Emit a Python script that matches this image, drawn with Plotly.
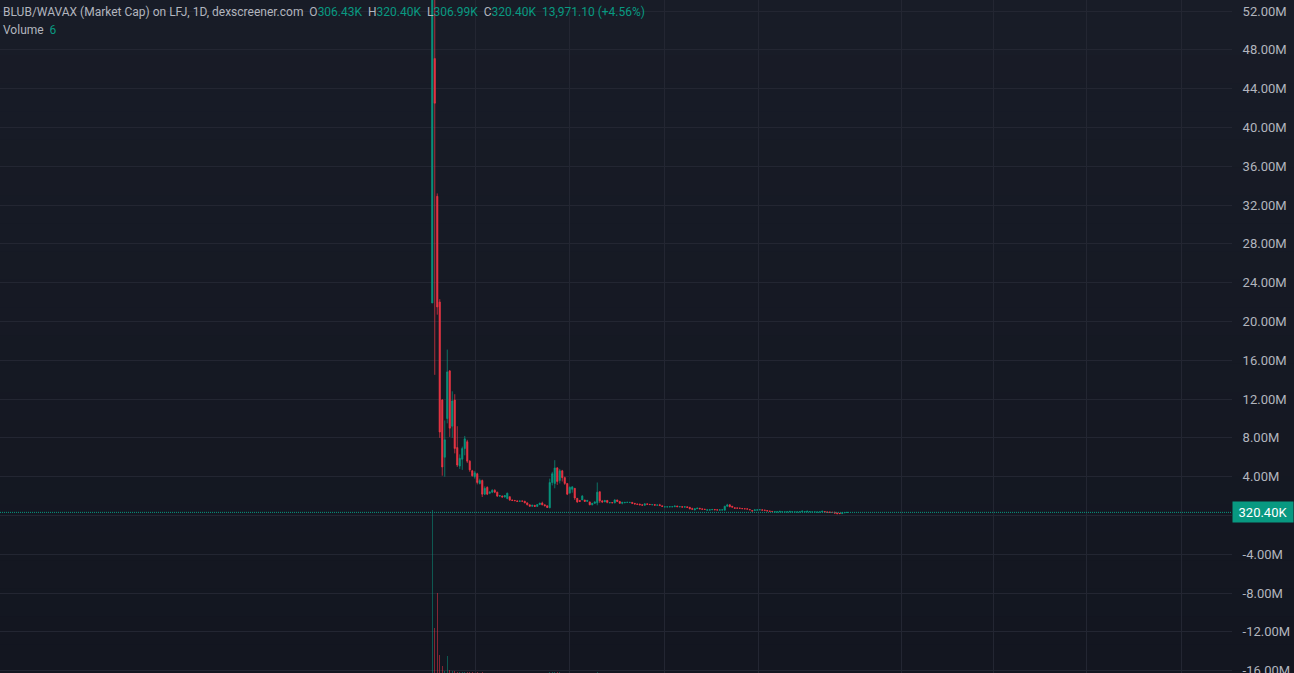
import plotly.graph_objects as go

# ---------------- data (market cap in millions USD) ----------------
opens = [
    21.9, 47.1, 32.9, 22.0, 11.9, 6.0, 10.0, 14.9, 9.2, 11.9,
    7.0, 5.1, 5.8, 6.9, 7.6, 5.6, 4.6, 4.0, 4.3, 3.3,
    3.6, 2.2, 2.9, 2.3, 2.4, 2.6, 2.4, 2.0, 2.0, 1.9,
    1.75, 1.94, 1.6, 1.55, 1.5, 1.45, 1.5, 1.47, 1.3, 1.1,
    0.95, 1.05, 0.93, 1.12, 1.28, 1.1, 1.0, 0.8, 3.4, 3.3,
    4.9, 3.6, 4.6, 3.9, 3.3, 2.3, 2.7, 2.8, 1.77, 1.55,
    1.6, 1.6, 1.45, 1.4, 1.1, 1.25, 1.3, 2.45, 1.5, 1.4,
    1.55, 1.3, 1.33, 1.3, 1.6, 1.45, 1.25, 1.3, 1.35, 1.33,
    1.35, 1.25, 1.18, 1.18, 1.1, 1.05, 1.2, 1.15, 1.1, 1.12,
    1.06, 1.1, 1.0, 0.88, 0.88, 0.88, 0.89, 0.9, 0.98, 0.88,
    0.91, 0.86, 0.9, 0.84, 0.7, 0.56, 0.7, 0.75, 0.68, 0.65,
    0.55, 0.55, 0.58, 0.62, 0.58, 0.54, 0.56, 0.55, 0.95, 1.1,
    0.95, 0.8, 0.78, 0.76, 0.72, 0.7, 0.68, 0.62, 0.5, 0.5,
    0.55, 0.56, 0.58, 0.56, 0.5, 0.46, 0.42, 0.34, 0.35, 0.37,
    0.36, 0.36, 0.36, 0.37, 0.36, 0.36, 0.36, 0.37, 0.38, 0.37,
    0.37, 0.38, 0.36, 0.36, 0.35, 0.36, 0.37, 0.4, 0.36, 0.35,
    0.34, 0.32, 0.26, 0.22, 0.19, 0.27, 0.3064289,
]
highs = [
    60.0, 56.0, 33.2, 22.3, 12.0, 9.8, 17.1, 15.0, 12.8, 12.5,
    9.2, 6.3, 7.1, 8.2, 7.8, 5.7, 4.7, 4.6, 4.4, 3.8,
    3.7, 3.0, 3.0, 2.5, 2.7, 2.7, 2.45, 2.1, 2.05, 2.1,
    2.35, 1.94, 1.62, 1.6, 1.55, 1.52, 1.52, 1.5, 1.32, 1.12,
    1.1, 1.06, 1.15, 1.3, 1.42, 1.12, 1.02, 3.8, 4.5, 5.7,
    5.0, 4.8, 4.7, 4.0, 3.3, 3.0, 3.0, 2.8, 1.8, 1.6,
    2.1, 1.6, 1.6, 1.42, 1.3, 1.45, 3.4, 2.45, 1.6, 1.6,
    1.6, 1.35, 1.36, 1.67, 1.62, 1.5, 1.4, 1.38, 1.38, 1.37,
    1.36, 1.27, 1.2, 1.2, 1.12, 1.25, 1.21, 1.16, 1.13, 1.12,
    1.1, 1.2, 1.0, 0.9, 0.9, 0.91, 0.92, 1.0, 0.99, 0.93,
    0.93, 0.92, 0.9, 0.88, 0.8, 0.72, 0.78, 0.76, 0.69, 0.66,
    0.6, 0.6, 0.63, 0.62, 0.6, 0.6, 0.6, 1.0, 1.2, 1.15,
    0.98, 0.82, 0.8, 0.77, 0.73, 0.71, 0.69, 0.63, 0.52, 0.6,
    0.6, 0.63, 0.59, 0.57, 0.51, 0.47, 0.43, 0.4, 0.39, 0.45,
    0.39, 0.38, 0.39, 0.47, 0.39, 0.38, 0.38, 0.39, 0.48, 0.4,
    0.47, 0.41, 0.38, 0.38, 0.37, 0.38, 0.47, 0.41, 0.37, 0.36,
    0.35, 0.4, 0.28, 0.25, 0.3, 0.31, 0.3204,
]
lows = [
    21.9, 14.5, 20.7, 8.0, 4.1, 4.0, 9.5, 8.1, 8.0, 6.4,
    5.0, 4.8, 4.7, 6.2, 5.4, 4.5, 4.0, 3.8, 3.2, 3.2,
    1.9, 2.1, 2.1, 2.2, 2.3, 2.3, 1.9, 1.9, 1.85, 1.85,
    1.67, 1.5, 1.5, 1.5, 1.4, 1.43, 1.45, 1.26, 1.05, 0.9,
    0.9, 0.9, 0.9, 1.08, 1.05, 0.95, 0.78, 0.74, 3.1, 2.8,
    3.15, 3.3, 3.5, 3.15, 2.1, 2.3, 2.35, 1.6, 1.3, 1.4,
    1.6, 1.4, 1.4, 1.05, 1.05, 1.2, 1.05, 1.3, 1.3, 1.38,
    1.26, 1.26, 1.28, 1.26, 1.4, 1.2, 1.15, 1.28, 1.32, 1.31,
    1.2, 1.15, 1.12, 1.05, 1.03, 1.02, 1.12, 1.1, 1.06, 1.04,
    1.04, 1.0, 0.9, 0.86, 0.86, 0.87, 0.88, 0.88, 0.87, 0.86,
    0.84, 0.84, 0.8, 0.64, 0.58, 0.54, 0.68, 0.66, 0.62, 0.6,
    0.5, 0.52, 0.56, 0.56, 0.55, 0.52, 0.52, 0.5, 0.9, 0.85,
    0.84, 0.72, 0.73, 0.72, 0.68, 0.66, 0.64, 0.56, 0.43, 0.48,
    0.52, 0.54, 0.53, 0.52, 0.45, 0.42, 0.39, 0.33, 0.34, 0.36,
    0.34, 0.34, 0.35, 0.35, 0.34, 0.34, 0.34, 0.35, 0.37, 0.35,
    0.35, 0.36, 0.35, 0.35, 0.34, 0.35, 0.36, 0.34, 0.33, 0.32,
    0.3, 0.22, 0.15, 0.16, 0.18, 0.26, 0.30699,
]
closes = [
    56.0, 42.5, 21.5, 8.6, 5.0, 7.8, 14.8, 9.0, 11.8, 6.9,
    5.2, 5.9, 6.9, 7.9, 5.6, 4.7, 4.1, 4.4, 3.4, 3.6,
    2.2, 2.8, 2.2, 2.4, 2.6, 2.4, 2.0, 2.05, 1.9, 2.05,
    2.3, 1.6, 1.55, 1.52, 1.45, 1.5, 1.47, 1.3, 1.1, 0.95,
    1.05, 0.93, 1.12, 1.28, 1.1, 1.0, 0.82, 3.4, 4.3, 4.9,
    3.5, 4.6, 3.9, 3.3, 2.2, 2.9, 2.95, 1.8, 1.4, 1.45,
    2.0, 1.45, 1.55, 1.1, 1.25, 1.4, 2.4, 1.5, 1.4, 1.55,
    1.35, 1.33, 1.3, 1.6, 1.45, 1.25, 1.35, 1.35, 1.36, 1.35,
    1.25, 1.18, 1.15, 1.1, 1.06, 1.2, 1.15, 1.12, 1.12, 1.06,
    1.08, 1.02, 0.93, 0.89, 0.89, 0.9, 0.9, 0.98, 0.9, 0.91,
    0.86, 0.9, 0.83, 0.68, 0.65, 0.7, 0.76, 0.68, 0.64, 0.62,
    0.58, 0.59, 0.62, 0.58, 0.56, 0.58, 0.58, 0.95, 1.08, 0.9,
    0.86, 0.74, 0.75, 0.74, 0.7, 0.68, 0.66, 0.58, 0.45, 0.58,
    0.58, 0.6, 0.55, 0.53, 0.46, 0.43, 0.4, 0.39, 0.38, 0.43,
    0.38, 0.37, 0.38, 0.42, 0.38, 0.37, 0.37, 0.38, 0.45, 0.39,
    0.44, 0.4, 0.37, 0.37, 0.36, 0.37, 0.44, 0.35, 0.34, 0.33,
    0.31, 0.24, 0.18, 0.19, 0.28, 0.3, 0.3204,
]
volumes = [
    2000000, 552000, 982000, 221000, 85000, 30000, 209000, 40000, 25000, 24000,
    18000, 12000, 9000, 14000, 11000, 8000, 7000, 6000, 9000, 5000,
    7000, 4000, 5000, 3000, 3500, 3000, 4000, 2500, 2000, 3000,
    4500, 3000, 2000, 1800, 2200, 1500, 1600, 2400, 2600, 2000,
    1700, 1500, 2100, 2600, 2900, 1600, 1900, 11000, 8000, 12000,
    7000, 6500, 5000, 4800, 5200, 3600, 3100, 4200, 3300, 2100,
    3400, 2000, 1800, 2500, 1700, 2200, 6800, 3900, 1800, 1500,
    1600, 1000, 900, 2300, 1400, 1500, 1100, 800, 600, 700,
    1000, 900, 700, 1100, 800, 1300, 700, 600, 500, 600,
    500, 900, 800, 400, 300, 350, 300, 700, 600, 400,
    500, 400, 600, 900, 800, 700, 500, 450, 400, 350,
    500, 300, 350, 300, 250, 300, 280, 1500, 1800, 1100,
    700, 600, 400, 300, 350, 300, 250, 400, 600, 500,
    300, 350, 250, 200, 300, 250, 200, 300, 150, 250,
    120, 100, 110, 260, 90, 80, 70, 90, 240, 80,
    200, 90, 60, 50, 40, 60, 180, 120, 70, 60,
    80, 260, 300, 150, 140, 40, 6,
]
price_tick_values_m = [52, 48, 44, 40, 36, 32, 28, 24, 20, 16, 12, 8, 4, 0, -4, -8, -12, -16]
price_tick_labels = ["52.00M", "48.00M", "44.00M", "40.00M", "36.00M", "32.00M", "28.00M",
                     "24.00M", "20.00M", "16.00M", "12.00M", "8.00M", "4.00M", "",
                     "-4.00M", "-8.00M", "-12.00M", "-16.00M"]
title_text = "BLUB/WAVAX (Market Cap) on LFJ, 1D, dexscreener.com"

# ---------------- derived ----------------
M = 1e6
bars = list(range(len(closes)))
o = [v * M for v in opens]
h = [v * M for v in highs]
l = [v * M for v in lows]
c = [v * M for v in closes]

UP = "#089981"
DOWN = "#f23645"
UP_VOL = "rgba(8,153,129,0.5)"
DOWN_VOL = "rgba(242,54,69,0.5)"
TEXT = "#b2b5be"
GRID = "#232632"
FONT = "Roboto, 'Noto Sans', sans-serif"

vol_colors = [UP_VOL if cc >= oo else DOWN_VOL for oo, cc in zip(o, c)]

fig = go.Figure()
fig.add_trace(go.Bar(
    x=bars, y=volumes, marker=dict(color=vol_colors, line=dict(width=0)),
    width=0.45, yaxis="y2", hoverinfo="skip", showlegend=False,
))
fig.add_trace(go.Candlestick(
    x=bars, open=o, high=h, low=l, close=c,
    increasing=dict(line=dict(color=UP, width=0.7), fillcolor=UP),
    decreasing=dict(line=dict(color=DOWN, width=0.7), fillcolor=DOWN),
    whiskerwidth=0, showlegend=False, hoverinfo="skip",
))

last_o, last_h, last_l, last_c = o[-1], h[-1], l[-1], c[-1]
chg = last_c - last_o
pct = chg / last_o * 100


def fmt_k(v):
    return f"{v / 1000:.2f}K"


def g(s):
    return f"<span style='color:{UP}'>{s}</span>"


sp = "\u00a0\u00a0"
line1 = (title_text + sp + "O" + g(fmt_k(last_o)) + sp + "H" + g(fmt_k(last_h)) + sp +
         "L" + g(fmt_k(last_l)) + sp + "C" + g(fmt_k(last_c)) + sp +
         g(f"{chg:,.2f} ({'+' if chg >= 0 else ''}{pct:.2f}%)"))
line2 = "Volume" + sp + g(f"{volumes[-1]:,}")

# background gradient bands (style only)
top_rgb = (24, 28, 39)
bot_rgb = (19, 22, 32)
nb = 24
shapes = []
for k in range(nb):
    t = k / (nb - 1)
    col = tuple(round(top_rgb[j] + (bot_rgb[j] - top_rgb[j]) * t) for j in range(3))
    shapes.append(dict(type="rect", xref="paper", yref="paper", x0=-0.01, x1=1.1,
                       y0=1 - (k + 1) / nb, y1=1 - k / nb + 0.001,
                       fillcolor=f"rgb{col}", line=dict(width=0), layer="below"))
# last price dotted line
shapes.append(dict(type="line", xref="paper", yref="y", x0=0, x1=1, y0=last_c, y1=last_c,
                   line=dict(color=UP, width=1, dash="1px,1px"), layer="above"))

fig.update_layout(
    width=1294, height=673,
    margin=dict(l=0, r=62, t=0, b=0),
    paper_bgcolor="rgb(19,22,32)", plot_bgcolor="rgba(0,0,0,0)",
    font=dict(family=FONT, color=TEXT, size=12),
    shapes=shapes, bargap=0, showlegend=False,
    xaxis=dict(range=[-172.9, 319.9], showticklabels=False, ticks="",
               tickmode="array", tickvals=[17.1, 54.7, 92.7, 130.3, 187.5, 224.3, 261.5, 299.5],
               showgrid=True, gridcolor=GRID, gridwidth=1, zeroline=False,
               rangeslider=dict(visible=False), showline=False, fixedrange=True),
    yaxis=dict(side="right", range=[-16.24 * M, 53.14 * M], tickmode="array",
               tickvals=[v * M for v in price_tick_values_m], ticktext=price_tick_labels,
               showgrid=True, gridcolor=GRID, gridwidth=1, zeroline=False,
               ticks="outside", ticklen=7, tickcolor="rgba(0,0,0,0)",
               tickfont=dict(family=FONT, size=13, color=TEXT),
               ticklabeloverflow="allow",
               showline=False, automargin=False),
    yaxis2=dict(overlaying="y", range=[0, 8.26 * M], visible=False, showgrid=False,
                zeroline=False),
    annotations=[
        dict(xref="paper", yref="paper", x=0, y=1, xanchor="left", yanchor="top",
             xshift=1, yshift=-3, text=line1, showarrow=False, align="left",
             font=dict(family=FONT, size=12, color=TEXT)),
        dict(xref="paper", yref="paper", x=0, y=1, xanchor="left", yanchor="top",
             xshift=1, yshift=-21, text=line2, showarrow=False, align="left",
             font=dict(family=FONT, size=12, color=TEXT)),
        dict(xref="paper", yref="y", x=1, y=last_c, xanchor="left", yanchor="middle",
             text=fmt_k(last_c), showarrow=False, bgcolor=UP, width=54, height=14,
             borderpad=3, align="center",
             font=dict(family=FONT, size=13, color="#ffffff")),
    ],
)

fig.write_html("out.html", config={"displayModeBar": False},
               post_script="document.body.style.margin='0';document.body.style.overflow='hidden';")
